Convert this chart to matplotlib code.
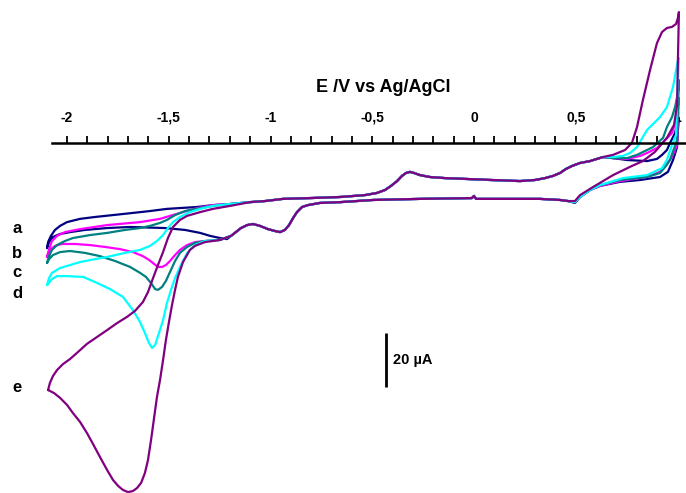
import matplotlib.pyplot as plt
import numpy as np
from matplotlib.ticker import FixedLocator

plt.rcParams['font.family'] = ['Liberation Sans', 'DejaVu Sans']

# potential (V vs Ag/AgCl) and current (uA)
# shared middle part of the anodic (upper) branch
mid_up_E = [-1.101, -1.027, -0.939, -0.806, -0.658, -0.536, -0.477, -0.437, -0.408, -0.378,
            -0.354, -0.334, -0.314, -0.295, -0.265, -0.216, -0.143, -0.044, 0.079, 0.226,
            0.300, 0.349, 0.388, 0.423, 0.452, 0.482, 0.521, 0.570, 0.604, 0.634]
mid_up_I = [-21.9, -21.5, -20.7, -20.4, -20.0, -19.3, -18.5, -17.4, -15.9, -14.1,
            -12.2, -11.1, -10.7, -11.1, -11.9, -12.6, -13.0, -13.3, -13.7, -14.1,
            -13.7, -13.0, -12.2, -11.1, -9.6, -8.5, -7.4, -6.7, -5.9, -5.2]
# shared middle part of the cathodic (lower) branch
mid_down_E = [0.462, 0.423, 0.324, 0.010, 0.0, -0.010, -0.265, -0.496, -0.658, -0.757,
              -0.816, -0.845, -0.870, -0.889, -0.909, -0.929, -0.953, -0.978, -1.012, -1.052,
              -1.086, -1.115, -1.145, -1.170, -1.194]
mid_down_I = [-21.5, -21.1, -20.7, -20.7, -19.6, -20.4, -20.7, -21.1, -21.9, -22.2,
              -23.0, -23.7, -25.6, -27.8, -30.4, -32.2, -33.0, -32.6, -31.9, -30.7,
              -30.0, -30.4, -31.5, -33.0, -34.4]

# a
a_left_up_E = [-2.098, -2.093, -2.079, -2.059, -2.034, -2.0, -1.936, -1.862, -1.725, -1.592,
               -1.509, -1.361, -1.283, -1.199]
a_left_up_I = [-38.9, -36.7, -34.4, -32.2, -30.7, -29.3, -28.1, -27.4, -26.3, -25.2,
               -24.4, -23.7, -23.0, -22.6]
a_right_E = [0.683, 0.752, 0.850, 0.899, 0.924, 0.948, 0.963, 0.988, 0.998, 1.007, 1.002, 0.998,
             0.978, 0.953, 0.914, 0.816, 0.717, 0.619, 0.570, 0.521, 0.496]
a_right_I = [-5.6, -6.3, -6.7, -5.9, -4.4, -2.6, 0.0, 3.7, 7.0, 9.3, 4.8, -1.5,
             -6.3, -10.7, -12.6, -13.7, -14.4, -15.9, -17.4, -20.0, -22.2]
a_left_down_E = [-1.214, -1.248, -1.297, -1.346, -1.420, -1.518, -1.690, -1.803, -1.912, -1.985,
                 -2.034, -2.069, -2.088, -2.098]
a_left_down_I = [-35.6, -35.2, -34.4, -33.3, -32.2, -31.5, -31.1, -31.5, -32.2, -33.0,
                 -33.7, -34.8, -36.7, -38.9]

# b
b_left_up_E = [-2.098, -2.088, -2.074, -2.049, -2.010, -1.936, -1.803, -1.641, -1.543, -1.494,
               -1.445, -1.361, -1.283, -1.199]
b_left_up_I = [-42.2, -39.3, -36.3, -34.4, -33.0, -31.9, -30.4, -29.3, -28.1, -27.0,
               -25.9, -24.1, -23.0, -22.6]
b_right_E = [0.683, 0.752, 0.816, 0.850, 0.899, 0.939, 0.973, 0.993, 1.007, 1.002, 0.998, 0.973,
             0.948, 0.914, 0.850, 0.717, 0.619, 0.570, 0.521, 0.496]
b_right_I = [-5.6, -5.9, -4.8, -3.7, -1.9, 1.1, 3.7, 8.5, 16.7, 8.5, -0.7, -5.2,
             -7.8, -10.7, -12.6, -14.1, -15.9, -17.4, -20.0, -21.9]
b_left_down_E = [-1.248, -1.322, -1.371, -1.410, -1.445, -1.469, -1.494, -1.514, -1.533, -1.553,
                 -1.572, -1.597, -1.627, -1.676, -1.740, -1.813, -1.887, -1.961, -2.025, -2.059,
                 -2.084, -2.098]
b_left_down_I = [-35.9, -36.3, -36.7, -37.8, -39.6, -41.5, -43.7, -45.2, -45.9, -45.9,
                 -44.8, -43.3, -41.9, -40.4, -39.3, -38.5, -37.8, -37.4, -37.4, -38.1,
                 -39.6, -42.2]

# c
c_left_up_E = [-2.098, -2.088, -2.074, -2.049, -2.010, -1.971, -1.887, -1.803, -1.715, -1.641,
               -1.592, -1.543, -1.509, -1.469, -1.420, -1.346, -1.283, -1.199]
c_left_up_I = [-44.4, -41.9, -39.6, -37.8, -36.3, -35.2, -34.1, -33.3, -32.2, -31.5,
               -30.7, -29.6, -28.5, -26.7, -25.2, -24.1, -23.3, -22.6]
c_right_E = [0.683, 0.752, 0.801, 0.880, 0.929, 0.948, 0.973, 0.988, 1.002, 1.007, 1.002, 0.998,
             0.963, 0.939, 0.914, 0.850, 0.717, 0.619, 0.570, 0.521, 0.496]
c_right_I = [-5.6, -5.6, -4.4, -1.5, 1.9, 5.9, 9.6, 13.3, 18.5, 23.3, 12.2, 1.1,
             -6.3, -8.9, -11.1, -12.6, -13.7, -15.6, -17.4, -20.0, -21.9]
c_left_down_E = [-1.248, -1.322, -1.371, -1.410, -1.445, -1.469, -1.494, -1.514, -1.533, -1.553,
                 -1.567, -1.587, -1.612, -1.641, -1.690, -1.764, -1.838, -1.912, -1.985, -2.034,
                 -2.069, -2.088, -2.098]
c_left_down_I = [-35.9, -36.3, -37.0, -38.5, -40.7, -43.7, -47.8, -51.1, -53.3, -54.4,
                 -54.1, -51.9, -49.6, -48.1, -45.9, -43.7, -41.9, -40.7, -40.0, -40.4,
                 -41.5, -43.0, -44.4]

# d
d_left_up_E = [-2.098, -2.088, -2.074, -2.034, -1.985, -1.936, -1.862, -1.803, -1.715, -1.641,
               -1.592, -1.558, -1.528, -1.504, -1.479, -1.445, -1.396, -1.346, -1.283, -1.199]
d_left_up_I = [-52.6, -50.0, -48.1, -46.3, -45.2, -44.1, -43.0, -42.2, -40.7, -39.6,
               -38.1, -36.3, -34.1, -31.5, -29.3, -27.4, -25.6, -24.4, -23.3, -22.6]
d_right_E = [0.683, 0.732, 0.767, 0.801, 0.850, 0.914, 0.948, 0.978, 1.002, 1.007, 0.998, 0.993,
             0.973, 0.948, 0.924, 0.850, 0.732, 0.619, 0.570, 0.521, 0.496]
d_right_I = [-5.2, -4.8, -3.7, -1.5, 4.8, 9.6, 13.3, 20.7, 30.7, 31.5, 15.9, 3.0,
             -0.7, -6.3, -9.3, -11.9, -13.0, -15.6, -17.4, -20.0, -21.9]
d_left_down_E = [-1.248, -1.322, -1.371, -1.410, -1.445, -1.469, -1.489, -1.509, -1.528, -1.548,
                 -1.567, -1.582, -1.597, -1.617, -1.641, -1.676, -1.725, -1.789, -1.862, -1.921,
                 -2.0, -2.049, -2.074, -2.098]
d_left_down_I = [-35.9, -36.3, -37.8, -40.7, -45.9, -50.0, -54.4, -59.3, -65.6, -70.4,
                 -74.8, -75.9, -74.1, -70.4, -66.3, -61.9, -57.0, -54.1, -51.5, -49.6,
                 -49.3, -49.3, -50.4, -52.6]

# e
e_left_up_E = [-2.093, -2.084, -2.069, -2.049, -2.020, -1.985, -1.946, -1.902, -1.853, -1.803,
               -1.754, -1.705, -1.666, -1.627, -1.602, -1.577, -1.553, -1.528, -1.504, -1.479,
               -1.445, -1.410, -1.346, -1.283, -1.199]
e_left_up_I = [-91.5, -88.9, -86.3, -84.1, -81.9, -80.0, -77.4, -74.4, -71.9, -69.3,
               -66.7, -64.4, -62.2, -58.9, -55.2, -50.0, -45.2, -40.4, -35.2, -31.1,
               -28.5, -27.0, -25.6, -24.4, -23.3]
e_right_E = [0.683, 0.742, 0.776, 0.801, 0.830, 0.865, 0.899, 0.924, 0.948, 0.973, 0.993, 1.002,
             1.007, 1.002, 0.998, 0.983, 0.948, 0.889, 0.830, 0.776, 0.683, 0.585, 0.521, 0.496]
e_right_I = [-4.4, -2.6, 0.0, 5.9, 15.9, 27.0, 37.0, 41.1, 42.6, 43.0, 44.1, 46.3,
             48.5, 30.7, 14.1, 6.7, 1.9, -3.3, -6.7, -8.5, -11.9, -16.3, -19.3, -21.5]
e_left_down_E = [-1.248, -1.322, -1.371, -1.396, -1.430, -1.455, -1.469, -1.484, -1.499, -1.514,
                 -1.528, -1.543, -1.558, -1.572, -1.587, -1.602, -1.617, -1.636, -1.656, -1.676,
                 -1.700, -1.725, -1.749, -1.774, -1.803, -1.838, -1.872, -1.902, -1.936, -1.971,
                 -2.0, -2.034, -2.064, -2.093]
e_left_down_I = [-35.9, -36.7, -38.1, -39.6, -44.1, -49.6, -54.4, -60.0, -66.3, -73.0,
                 -80.4, -87.8, -94.1, -101.9, -110.0, -117.4, -122.2, -125.9, -127.8, -128.9,
                 -129.3, -128.5, -127.0, -124.8, -121.1, -116.3, -111.5, -107.4, -103.3, -100.0,
                 -97.0, -94.4, -92.6, -91.5]

labels = ['a', 'b', 'c', 'd', 'e']
colors = ['#000080', '#ff00ff', '#008080', '#00ffff', '#800080']
label_I = [-31.5, -41.1, -47.8, -55.6, -90.4]

tick_vals = [-2, -1.5, -1, -0.5, 0, 0.5, 1]
tick_labels = ['-2', '-1,5', '-1', '-0,5', '0', '0,5', '1']

parts = {
    'a': (a_left_up_E, a_left_up_I, a_right_E, a_right_I, a_left_down_E, a_left_down_I),
    'b': (b_left_up_E, b_left_up_I, b_right_E, b_right_I, b_left_down_E, b_left_down_I),
    'c': (c_left_up_E, c_left_up_I, c_right_E, c_right_I, c_left_down_E, c_left_down_I),
    'd': (d_left_up_E, d_left_up_I, d_right_E, d_right_I, d_left_down_E, d_left_down_I),
    'e': (e_left_up_E, e_left_up_I, e_right_E, e_right_I, e_left_down_E, e_left_down_I),
}

fig = plt.figure(figsize=(6.86, 4.93), dpi=100)
ax = fig.add_axes([0, 0, 1, 1])

for lab, col in zip(labels, colors):
    lu_E, lu_I, r_E, r_I, ld_E, ld_I = parts[lab]
    E = np.concatenate([lu_E, mid_up_E, r_E, mid_down_E, ld_E])
    I = np.concatenate([lu_I, mid_up_I, r_I, mid_down_I, ld_I])
    ax.plot(E, I, color=col, lw=1.6, solid_joinstyle='round', solid_capstyle='round')

# pixel -> data mapping of the original picture
ax.set_xlim(-474 / 203.5, 212 / 203.5)
ax.set_ylim(-350 / 2.7, 143 / 2.7)

for s in ['left', 'right', 'bottom']:
    ax.spines[s].set_visible(False)
ax.spines['top'].set_position(('data', 0))
ax.spines['top'].set_bounds(-2.074, 1.05)
ax.spines['top'].set_linewidth(1.8)
ax.xaxis.set_ticks_position('top')
ax.set_xticks(tick_vals)
ax.set_xticklabels(tick_labels, fontsize=10, fontweight='bold')
ax.xaxis.set_minor_locator(FixedLocator(np.round(np.arange(-2.0, 1.01, 0.1), 1)))
ax.tick_params(axis='x', which='both', direction='out', length=5, width=1.3, pad=8)
ax.set_yticks([])

fig.text(383 / 686, 1 - 88 / 493, 'E /V vs Ag/AgCl', ha='center', va='center',
         fontsize=13, fontweight='bold')

for lab, yl in zip(labels, label_I):
    ax.text(-2.245, yl, lab, ha='center', va='center', fontsize=12, fontweight='bold')

# 20 uA scale bar
bar_E = -0.432
bar_top = -70.4
bar_len = 20
ax.vlines(bar_E, bar_top - bar_len, bar_top, color='black', lw=2)
ax.text(bar_E + 0.034, bar_top - bar_len / 2, '20 µA', ha='left', va='center',
        fontsize=10.5, fontweight='bold')

fig.savefig('out.png', dpi=100)
